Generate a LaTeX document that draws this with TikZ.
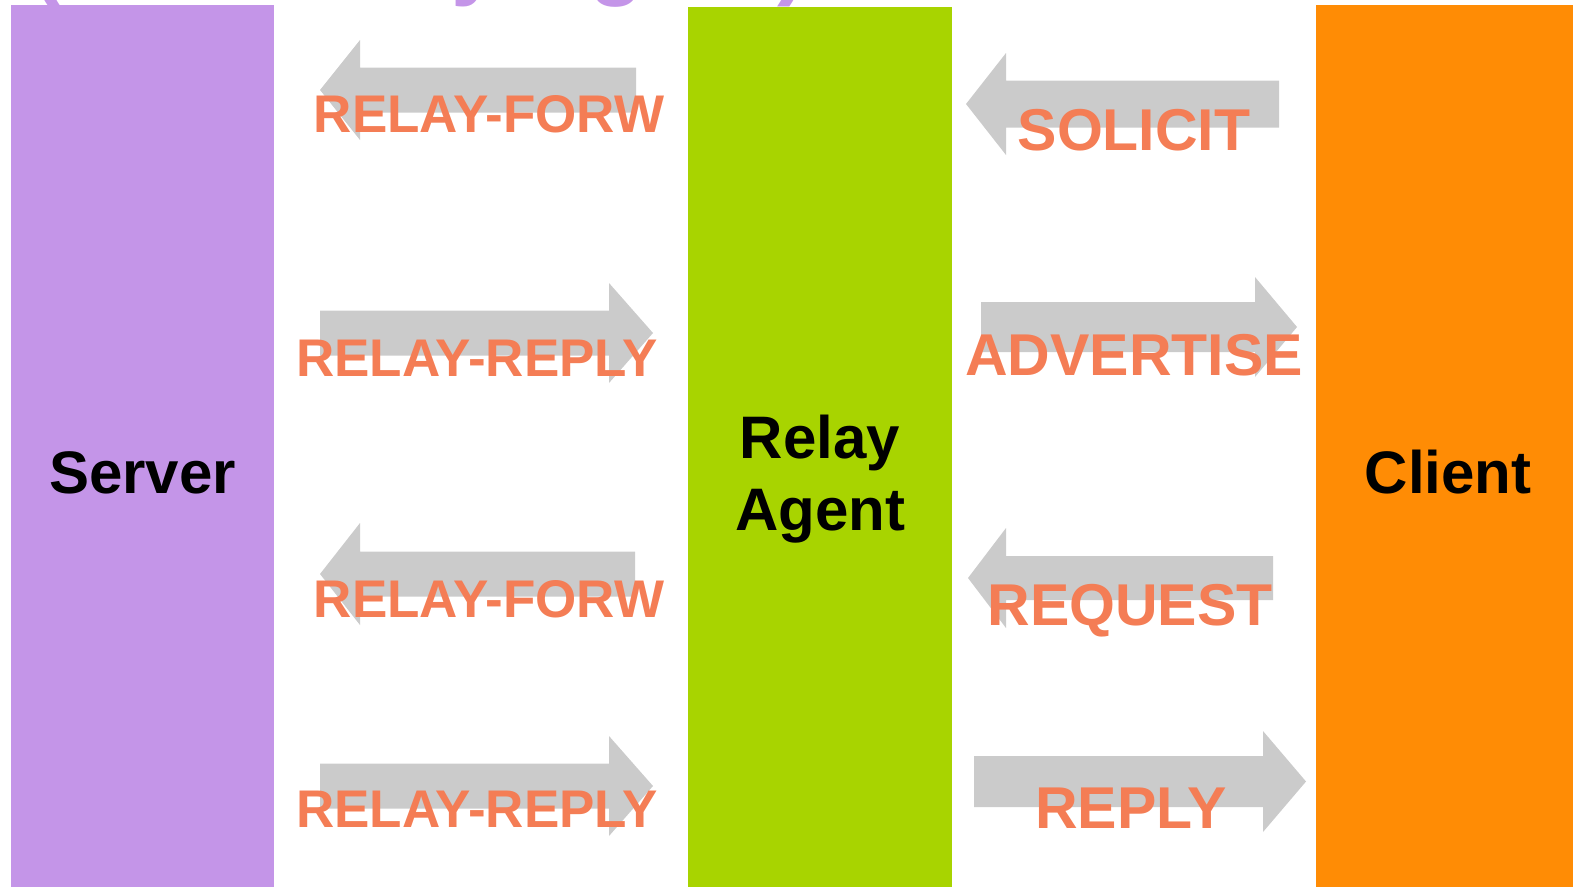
\documentclass[tikz,border=0pt]{standalone}
\usepackage{fontspec}
\setmainfont{Liberation Sans}
\definecolor{srvcol}{HTML}{C495E8}
\definecolor{relcol}{HTML}{A8D400}
\definecolor{clicol}{HTML}{FF8C05}
\definecolor{arrcol}{HTML}{CBCBCB}
\definecolor{msgcol}{HTML}{F47D55}
\tikzset{
  column/.style={inner sep=0pt, outer sep=0pt, draw=none},
  arrowbox/.style={fill=arrcol, draw=none},
  msgl/.style={anchor=base, inner sep=0pt, text=msgcol, font=\bfseries\fontsize{53}{60}\selectfont},
  msgr/.style={anchor=base, inner sep=0pt, text=msgcol, font=\bfseries\fontsize{59}{66}\selectfont},
  colname/.style={anchor=base, inner sep=0pt, text=black, font=\bfseries\fontsize{60}{72}\selectfont, align=center},
  titletext/.style={anchor=base west, inner sep=0pt, text=srvcol, font=\bfseries\fontsize{89}{100}\selectfont}
}
% left-pointing block arrow: tip x, head base x, tail x, centre y, shaft half, head half
\newcommand\blockleft[6]{\fill[arrowbox] (#1,#4) -- (#2,#4-#6) -- (#2,#4-#5) -- (#3,#4-#5) -- (#3,#4+#5) -- (#2,#4+#5) -- (#2,#4+#6) -- cycle;}
% right-pointing block arrow: tail x, head base x, tip x, centre y, shaft half, head half
\newcommand\blockright[6]{\fill[arrowbox] (#3,#4) -- (#2,#4-#6) -- (#2,#4-#5) -- (#1,#4-#5) -- (#1,#4+#5) -- (#2,#4+#5) -- (#2,#4+#6) -- cycle;}
\begin{document}
\begin{tikzpicture}[x=1pt,y=-1pt]
\useasboundingbox (0,0) rectangle (1573,887);
\clip (0,0) rectangle (1573,887);
% cut-off title
\node[titletext] (title) at (31,-12) {(with Relay Agent)};
% columns
\fill[srvcol] (11,5) rectangle (274,887);
\fill[relcol] (688,7) rectangle (952,887);
\fill[clicol] (1316,5) rectangle (1573,887);
\node[colname] (server) at (142.5,493) {Server};
\node[colname] (relay) at (820,530) {Relay\\Agent};
\node[colname] (client) at (1448,493) {Client};
% arrows server <-> relay
\blockleft{320}{360}{636}{90}{22.5}{50}
\blockright{320}{609}{653}{333}{22.5}{50}
\blockleft{320}{360}{635}{574}{22.5}{51}
\blockright{320}{609}{653}{786}{22.5}{50}
% arrows relay <-> client
\blockleft{966}{1006}{1279}{104}{23.5}{51}
\blockright{981}{1255}{1297}{327}{25}{50}
\blockleft{968}{1006}{1273}{578}{22}{50}
\blockright{974}{1263}{1306}{781.5}{25.5}{50.5}
% labels
\node[msgl] (m1) at (489,132) {RELAY-FORW};
\node[msgl] (m2) at (477,376) {RELAY-REPLY};
\node[msgl] (m3) at (489,617) {RELAY-FORW};
\node[msgl] (m4) at (477,827) {RELAY-REPLY};
\node[msgr] (m5) at (1134,150) {SOLICIT};
\node[msgr] (m6) at (1134,375) {ADVERTISE};
\node[msgr] (m7) at (1130,625) {REQUEST};
\node[msgr] (m8) at (1131,828) {REPLY};
\end{tikzpicture}
\end{document}
